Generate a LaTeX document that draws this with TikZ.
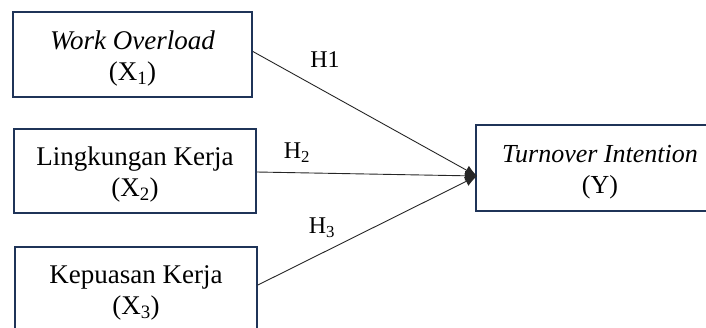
\documentclass[tikz,border=0pt]{standalone}
\usepackage{fontspec}
\setmainfont{Liberation Serif}
\usetikzlibrary{arrows.meta}
\definecolor{boxnavy}{HTML}{1F3458}
\tikzset{
  varbox/.style={draw=boxnavy, line width=1.8pt, rectangle, align=center,
    font=\fontsize{27}{31}\selectfont, inner sep=0pt},
  link/.style={draw=black!85, line width=0.9pt, -{Latex[length=12pt,width=10pt]}},
  hlabel/.style={font=\fontsize{24}{28}\selectfont, inner sep=0pt}
}
\newcommand{\topstrut}{\rule{0pt}{26.5pt}}
\begin{document}
\begin{tikzpicture}[x=1pt,y=-1pt]
\useasboundingbox (0,0) rectangle (706,327);
\node[varbox, minimum width=239pt, minimum height=85pt] (x1) at (132.5,54.5)
  {\topstrut\textit{Work Overload}\\(X\textsubscript{1})};
\node[varbox, minimum width=242pt, minimum height=84pt] (x2) at (135,171)
  {\topstrut Lingkungan Kerja\\(X\textsubscript{2})};
\node[varbox, minimum width=242pt, minimum height=84pt] (x3) at (136,289)
  {\topstrut Kepuasan Kerja\\(X\textsubscript{3})};
\node[varbox, minimum width=248pt, minimum height=86pt,
  font=\fontsize{26}{31}\selectfont] (y) at (600,168)
  {\topstrut\textit{Turnover Intention}\\(Y)};
\coordinate (tip) at (477,176);
\draw[link] ([yshift=3pt]x1.east) -- (tip);
\draw[link] ([yshift=-1pt]x2.east) -- (tip);
\draw[link] ([yshift=4pt]x3.east) -- (tip);
\node[hlabel] (h1) at (325,60) {H1};
\node[hlabel] (h2) at (297,153) {H\textsubscript{2}};
\node[hlabel] (h3) at (322,228) {H\textsubscript{3}};
\end{tikzpicture}
\end{document}
